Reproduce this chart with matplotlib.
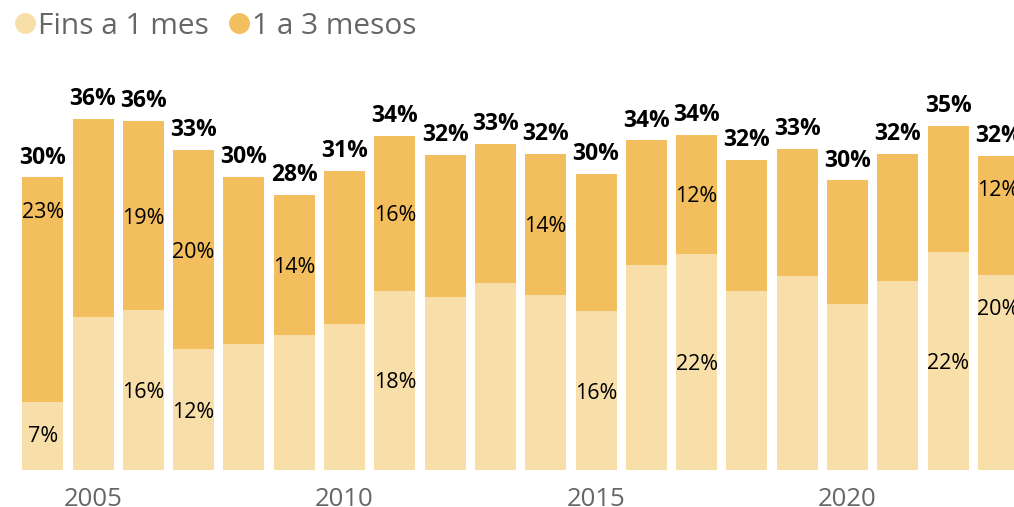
import numpy as np
import matplotlib.pyplot as plt
from matplotlib.lines import Line2D

# Data (percent)
years = np.arange(2004, 2024)
fins_1_mes = [7.0, 15.7, 16.4, 12.4, 12.9, 13.8, 15.0, 18.4, 17.7, 19.2,
              18.0, 16.3, 21.0, 22.2, 18.4, 19.9, 17.0, 19.4, 22.4, 20.0]
de_1_a_3 = [23.0, 20.3, 19.4, 20.4, 17.2, 14.4, 15.7, 15.9, 14.6, 14.2,
            14.4, 14.1, 12.8, 12.2, 13.4, 13.0, 12.7, 13.0, 12.9, 12.2]
series_names = ['Fins a 1 mes', '1 a 3 mesos']

# which segment labels are shown
labels_bottom = [2004, 2006, 2007, 2011, 2015, 2017, 2022, 2023]
labels_top = [2004, 2006, 2007, 2009, 2011, 2014, 2017, 2023]
near_top = [2004, 2023]  # edge bars: label sits near top of segment

c_light = '#F8DFAA'
c_dark = '#F3BE5E'
grey = '#666666'

plt.rcParams['font.family'] = ['Open Sans', 'DejaVu Sans']

fig = plt.figure(figsize=(10.14, 5.07), dpi=100)
ax = fig.add_axes([0, 37 / 507, 1, 390 / 507])

bottom = np.array(fins_1_mes)
top = np.array(de_1_a_3)
total = bottom + top
w = 0.815

ax.bar(years, bottom, width=w, color=c_light, label=series_names[0])
ax.bar(years, top, width=w, bottom=bottom, color=c_dark, label=series_names[1])

for x, t in zip(years, total):
    ax.annotate(f'{round(t)}%', (x, t), xytext=(0, 10), textcoords='offset points',
                ha='center', va='baseline', fontsize=16.5, fontweight='bold', color='black')

for i, x in enumerate(years):
    if x in labels_bottom:
        y = bottom[i] - 3.3 if x in near_top else bottom[i] / 2
        ax.text(x, y, f'{round(bottom[i])}%', ha='center', va='center_baseline',
                fontsize=15.5, color='black')
    if x in labels_top:
        y = total[i] - 3.3 if x in near_top else bottom[i] + top[i] / 2
        ax.text(x, y, f'{round(top[i])}%', ha='center', va='center_baseline',
                fontsize=15.5, color='black')

ax.set_xlim(2003.15, 2023.31)
ax.set_ylim(0, 40)
ax.set_xticks([2005, 2010, 2015, 2020])
ax.tick_params(axis='x', length=0, pad=12, labelsize=18.5, labelcolor=grey)
ax.set_yticks([])
for s in ax.spines.values():
    s.set_visible(False)

handles = [Line2D([], [], marker='o', ls='', markersize=14, color=c_light),
           Line2D([], [], marker='o', ls='', markersize=14, color=c_dark)]
leg = fig.legend(handles, series_names, loc='center left', bbox_to_anchor=(-0.005, 1 - 26 / 507),
                 ncol=2, frameon=False, fontsize=21.5, handletextpad=-0.15,
                 columnspacing=0.4, handlelength=1.2, borderaxespad=0)
for t in leg.get_texts():
    t.set_color(grey)

fig.savefig('out.png', dpi=100)
